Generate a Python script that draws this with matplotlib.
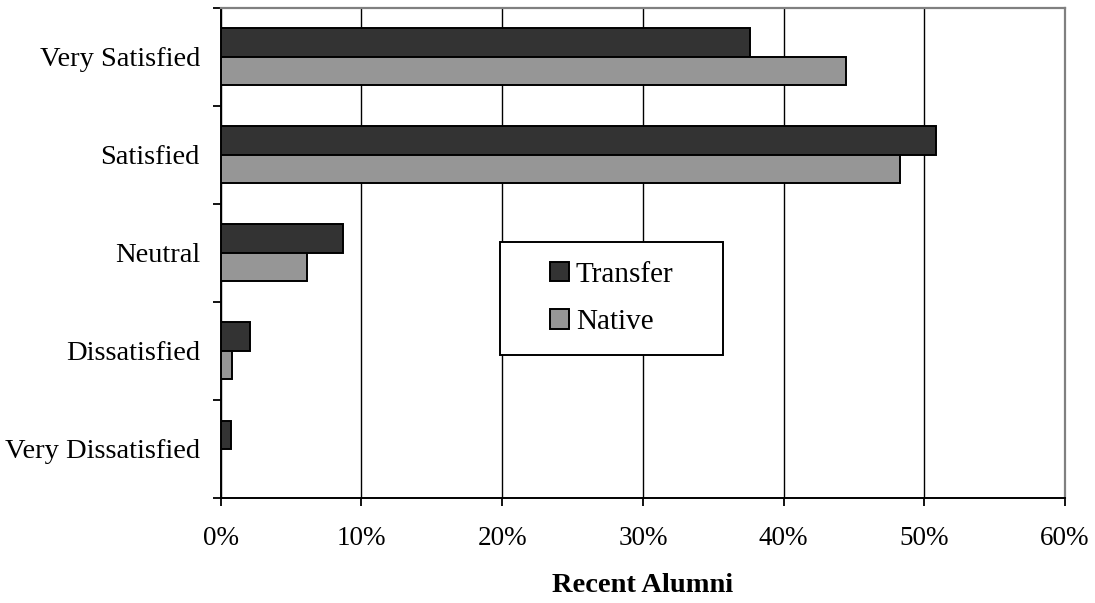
import matplotlib.pyplot as plt
from matplotlib.patches import Rectangle
import numpy as np

categories = ["Very Satisfied", "Satisfied", "Neutral", "Dissatisfied", "Very Dissatisfied"]
transfer = [37.6, 50.8, 8.7, 2.1, 0.7]
native = [44.4, 48.3, 6.1, 0.8, 0.0]
xticks = [0, 10, 20, 30, 40, 50, 60]

plt.rcParams['font.family'] = ['Liberation Serif', 'DejaVu Serif']

fig = plt.figure(figsize=(10.95, 6.03), dpi=100)
ax = fig.add_axes([0.2016, 0.1741, 0.7711, 0.8131])

y = np.arange(len(categories))
h = 0.29
ax.barh(y - h / 2, transfer, height=h, color='#333333', edgecolor='black', linewidth=1.4,
        label='Transfer', zorder=3)
ax.barh(y + h / 2, native, height=h, color='#969696', edgecolor='black', linewidth=1.4,
        label='Native', zorder=3)

ax.set_xlim(0, 60)
ax.set_ylim(len(categories) - 0.5, -0.5)

ax.set_xticks(xticks)
ax.set_xticklabels([f"{t}%" for t in xticks], fontsize=19.5)
ax.tick_params(axis='x', direction='out', length=6, width=1.3, pad=14)

# boundaries get the tick marks, centres get the labels
ax.set_yticks(np.arange(len(categories) + 1) - 0.5)
ax.set_yticklabels([])
ax.set_yticks(y, minor=True)
ax.set_yticklabels(categories, minor=True, fontsize=20.5)
ax.tick_params(axis='y', which='major', direction='out', length=6, width=1.3)
ax.tick_params(axis='y', which='minor', length=0, pad=15)

ax.xaxis.grid(True, color='black', linewidth=1.0)
ax.set_axisbelow(True)

for s in ['top', 'right']:
    ax.spines[s].set_color('#808080')
    ax.spines[s].set_linewidth(1.6)
for s in ['left', 'bottom']:
    ax.spines[s].set_color('black')
    ax.spines[s].set_linewidth(1.4)

ax.set_xlabel("Recent Alumni", fontsize=20.5, fontweight='bold', labelpad=16)

# legend box
ax.add_patch(Rectangle((0.3308, 0.2917), 0.2642, 0.2305, transform=ax.transAxes,
                       facecolor='white', edgecolor='black', linewidth=1.4, zorder=5))
leg = ax.legend(loc='center', bbox_to_anchor=(0.4629, 0.4069), frameon=False, fontsize=21,
                handlelength=0.65, handleheight=0.65, handletextpad=0.25, labelspacing=0.75)
leg.set_zorder(6)

plt.savefig("out.png", dpi=100)
